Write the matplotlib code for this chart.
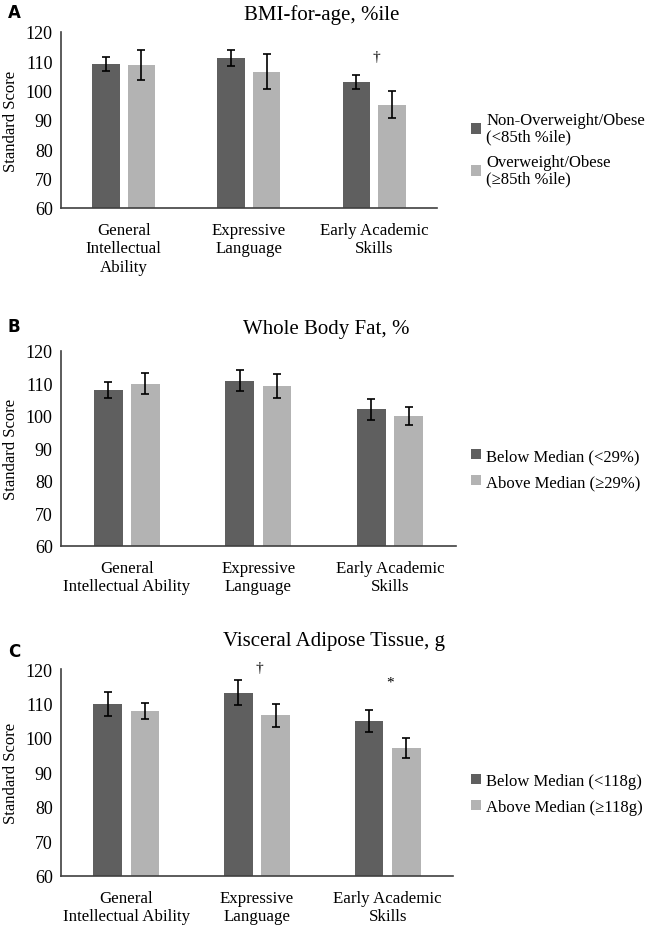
import numpy as np
import matplotlib.pyplot as plt

plt.rcParams['font.family'] = ['Liberation Serif', 'DejaVu Serif']

# data (means and error bar half-widths)
bmi_low = [109.1, 111.2, 103.0]
bmi_low_err = [2.3, 2.7, 2.3]
bmi_high = [108.7, 106.4, 95.2]
bmi_high_err = [5.0, 6.0, 4.7]

fat_low = [108.0, 110.9, 102.0]
fat_low_err = [2.6, 3.1, 3.2]
fat_high = [109.9, 109.2, 100.1]
fat_high_err = [3.2, 3.7, 2.8]

vat_low = [109.9, 113.1, 104.8]
vat_low_err = [3.4, 3.6, 3.2]
vat_high = [107.8, 106.6, 97.0]
vat_high_err = [2.3, 3.3, 2.9]

cats_a = ['General\nIntellectual\nAbility', 'Expressive\nLanguage', 'Early Academic\nSkills']
cats_bc = ['General\nIntellectual Ability', 'Expressive\nLanguage', 'Early Academic\nSkills']

panels = [
    dict(letter='A', title='BMI-for-age, %ile', low=bmi_low, low_err=bmi_low_err,
         high=bmi_high, high_err=bmi_high_err, cats=cats_a,
         labels=['Non-Overweight/Obese\n(<85th %ile)', 'Overweight/Obese\n(≥85th %ile)'],
         marks=[(2, 111.6, '†')]),
    dict(letter='B', title='Whole Body Fat, %', low=fat_low, low_err=fat_low_err,
         high=fat_high, high_err=fat_high_err, cats=cats_bc,
         labels=['Below Median (<29%)', 'Above Median (≥29%)'], marks=[]),
    dict(letter='C', title='Visceral Adipose Tissue, g', low=vat_low, low_err=vat_low_err,
         high=vat_high, high_err=vat_high_err, cats=cats_bc,
         labels=['Below Median (<118g)', 'Above Median (≥118g)'],
         marks=[(1, 120.3, '†'), (2, 116.3, '*')]),
]

# axes rectangles in figure fraction: left, bottom, width, height
rects = [
    [0.094, 0.7748, 0.579, 0.1897],
    [0.094, 0.4106, 0.608, 0.2101],
    [0.094, 0.0550, 0.604, 0.2230],
]
legend_y = [0.838, 0.4935, 0.1433]
title_x = [0.496, 0.503, 0.515]
title_y = [0.9945, 0.655, 0.3185]
letter_y = [0.996, 0.6575, 0.3075]

dark = '#5f5f5f'
light = '#b3b3b3'

fig = plt.figure(figsize=(6.49, 9.28), dpi=100)

for p, rect, ly, tx, ty, lty in zip(panels, rects, legend_y, title_x, title_y, letter_y):
    ax = fig.add_axes(rect)
    x = np.arange(3)
    w = 0.22
    off = 0.142
    ekw = dict(ecolor='black', elinewidth=1.2, capsize=3.0, capthick=1.2)
    b1 = ax.bar(x - off, p['low'], w, color=dark, yerr=p['low_err'],
                error_kw=ekw, label=p['labels'][0])
    b2 = ax.bar(x + off, p['high'], w, color=light, yerr=p['high_err'],
                error_kw=ekw, label=p['labels'][1])
    for i, v, s in p['marks']:
        ax.text(i + 0.02, v, s, ha='center', va='center', fontsize=11)

    ax.set_ylim(60, 120)
    ax.set_xlim(-0.5, 2.5)
    ax.set_yticks(range(60, 121, 10))
    ax.set_yticks([120], minor=True)
    ax.tick_params(axis='y', which='major', length=0, labelsize=13, pad=6)
    ax.tick_params(axis='y', which='minor', direction='in', length=5, width=1, color='#404040')
    ax.set_xticks(x)
    ax.set_xticklabels(p['cats'], fontsize=12.2, linespacing=1.2)
    ax.tick_params(axis='x', length=0, pad=10)
    ax.set_ylabel('Standard Score', fontsize=12, labelpad=5)
    for s in ['top', 'right']:
        ax.spines[s].set_visible(False)
    for s in ['left', 'bottom']:
        ax.spines[s].set_color('#404040')
        ax.spines[s].set_linewidth(1.2)

    fig.text(tx, ty, p['title'], ha='center', va='top', fontsize=15)
    fig.text(0.012, lty, p['letter'], ha='left', va='top', fontsize=12,
             fontweight='bold', family='DejaVu Sans')
    leg = fig.legend(handles=[b1, b2], loc='center left', bbox_to_anchor=(0.716, ly),
                     frameon=False, fontsize=12, handlelength=0.6, handleheight=0.6,
                     handletextpad=0.3, labelspacing=0.6, borderaxespad=0)
    for t in leg.get_texts():
        t.set_linespacing(1.0)

fig.savefig('out.png', dpi=100)
